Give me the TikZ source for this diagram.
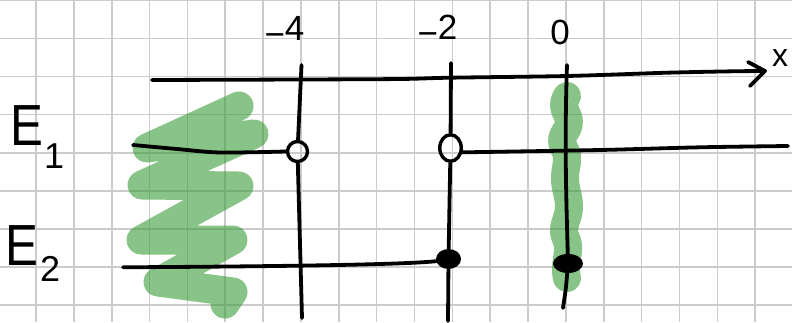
\documentclass[tikz,border=0pt]{standalone}
\usepackage{fontspec}
\setmainfont{Liberation Sans}
\usetikzlibrary{shapes.geometric}

\definecolor{gridgray}{RGB}{204,204,204}
\definecolor{marker}{RGB}{57,157,57}

\tikzset{
  gridline/.style={draw=gridgray, line width=1.6pt},
  ink/.style={draw=black, line width=3.8pt, line cap=round, line join=round},
  highlight/.style={draw=marker, draw opacity=0.6, line width=29pt,
                    line cap=round, line join=round},
  hollow/.style={ellipse, draw=black, line width=3.4pt, inner sep=0pt},
  solid dot/.style={ellipse, fill=black, draw=none, inner sep=0pt},
  lbl/.style={inner sep=0pt, text=black, font=\fontsize{35}{35}\selectfont},
}

\begin{document}
\begin{tikzpicture}[x=1pt, y=-1pt]
  \useasboundingbox (0,0) rectangle (792,322);
  \fill[white] (0,0) rectangle (792,322);

  % squared paper
  \foreach \k in {0,...,20}
    \draw[gridline] ({36+37.85*\k},0) -- ({36+37.85*\k},322);
  \foreach \k in {0,...,8}
    \draw[gridline] (0,{0.3+38.1*\k}) -- (792,{0.3+38.1*\k});

  % green marker: scribble on the left, wavy band along x = 0
  \draw[highlight] (239,106) -- (147,148) -- (254,134) -- (142,185)
    -- (239,186) -- (141,240) -- (233,240) -- (158,282) -- (233,292) -- (225,304);
  \draw[highlight, line width=28pt] plot[smooth, tension=0.7] coordinates {
    (567,96) (564,106) (569,123) (562,140) (567,157) (565,180)
    (569,207) (564,230) (568,246) (566,268) (567,278)};

  % markers on the levels
  \node[hollow, minimum width=20pt, minimum height=20pt] (o4) at (297.5,151.5) {};
  \node[hollow, minimum width=21.5pt, minimum height=26.5pt] (o2) at (450.5,148) {};
  \node[solid dot, minimum width=25pt, minimum height=20pt] (f2) at (448.5,259) {};
  \node[solid dot, minimum width=30pt, minimum height=19pt] (f0) at (568,263.5) {};

  % axis with its arrow
  \coordinate (a0) at (152,80);
  \coordinate (ax) at (765,71);
  \draw[ink] plot[smooth] coordinates {(a0) (300,79.5) (400,79) (450,77.7)
    (567,76) (667,72.7) (733,71.3) (ax)};
  \coordinate (arrU) at (748,62);
  \coordinate (arrL) at (750,86);
  \draw[ink] (arrU) -- (ax) -- (arrL);

  % tick at -4
  \coordinate (t4top) at (301.5,65);
  \coordinate (t4bot) at (302,318);
  \draw[ink] (t4top) -- (o4);
  \draw[ink] (o4) -- (t4bot);

  % tick at -2
  \coordinate (t2top) at (451,63);
  \coordinate (t2bot) at (448,321);
  \draw[ink] (t2top) -- (o2);
  \draw[ink] (o2) -- (f2);
  \draw[ink] (f2) -- (t2bot);

  % tick at 0
  \coordinate (t0top) at (567,65);
  \coordinate (t0bot) at (563,308);
  \draw[ink] (t0top) .. controls (564,150) and (567,220) .. (f0);
  \draw[ink] (f0) .. controls (566,288) .. (t0bot);

  % level E1
  \coordinate (e1l) at (133,145);
  \coordinate (e1r) at (788,146);
  \draw[ink] plot[smooth] coordinates {(e1l) (177,149) (220,152.5) (o4.180)};
  \draw[ink] plot[smooth] coordinates {(o2.-20) (600,150) (700,147.3) (e1r)};

  % level E2
  \coordinate (e2l) at (123,267.3);
  \draw[ink] (e2l) .. controls (260,266.5) and (400,265) .. (f2.190);

  % labels
  \node[lbl, anchor=base] (l4) at (284.5,40) {\raisebox{-6pt}{−}4};
  \node[lbl, anchor=base] (l2) at (437.5,39) {\raisebox{-6pt}{−}2};
  \node[lbl, anchor=base] (l0) at (560,44) {0};
  \node[lbl, anchor=base, font=\fontsize{32}{32}\selectfont] (lx) at (780,66) {x};
  \node[lbl, anchor=base west, font=\fontsize{58}{58}\selectfont] (E1) at (10,145)
    {\scalebox{0.85}[1]{E}\kern1pt\raisebox{-23pt}{\fontsize{36}{36}\selectfont 1}};
  \node[lbl, anchor=base west, font=\fontsize{58}{58}\selectfont] (E2) at (5,265)
    {\scalebox{0.85}[1]{E}\kern2pt\raisebox{-16pt}{\fontsize{36}{36}\selectfont 2}};
\end{tikzpicture}
\end{document}
